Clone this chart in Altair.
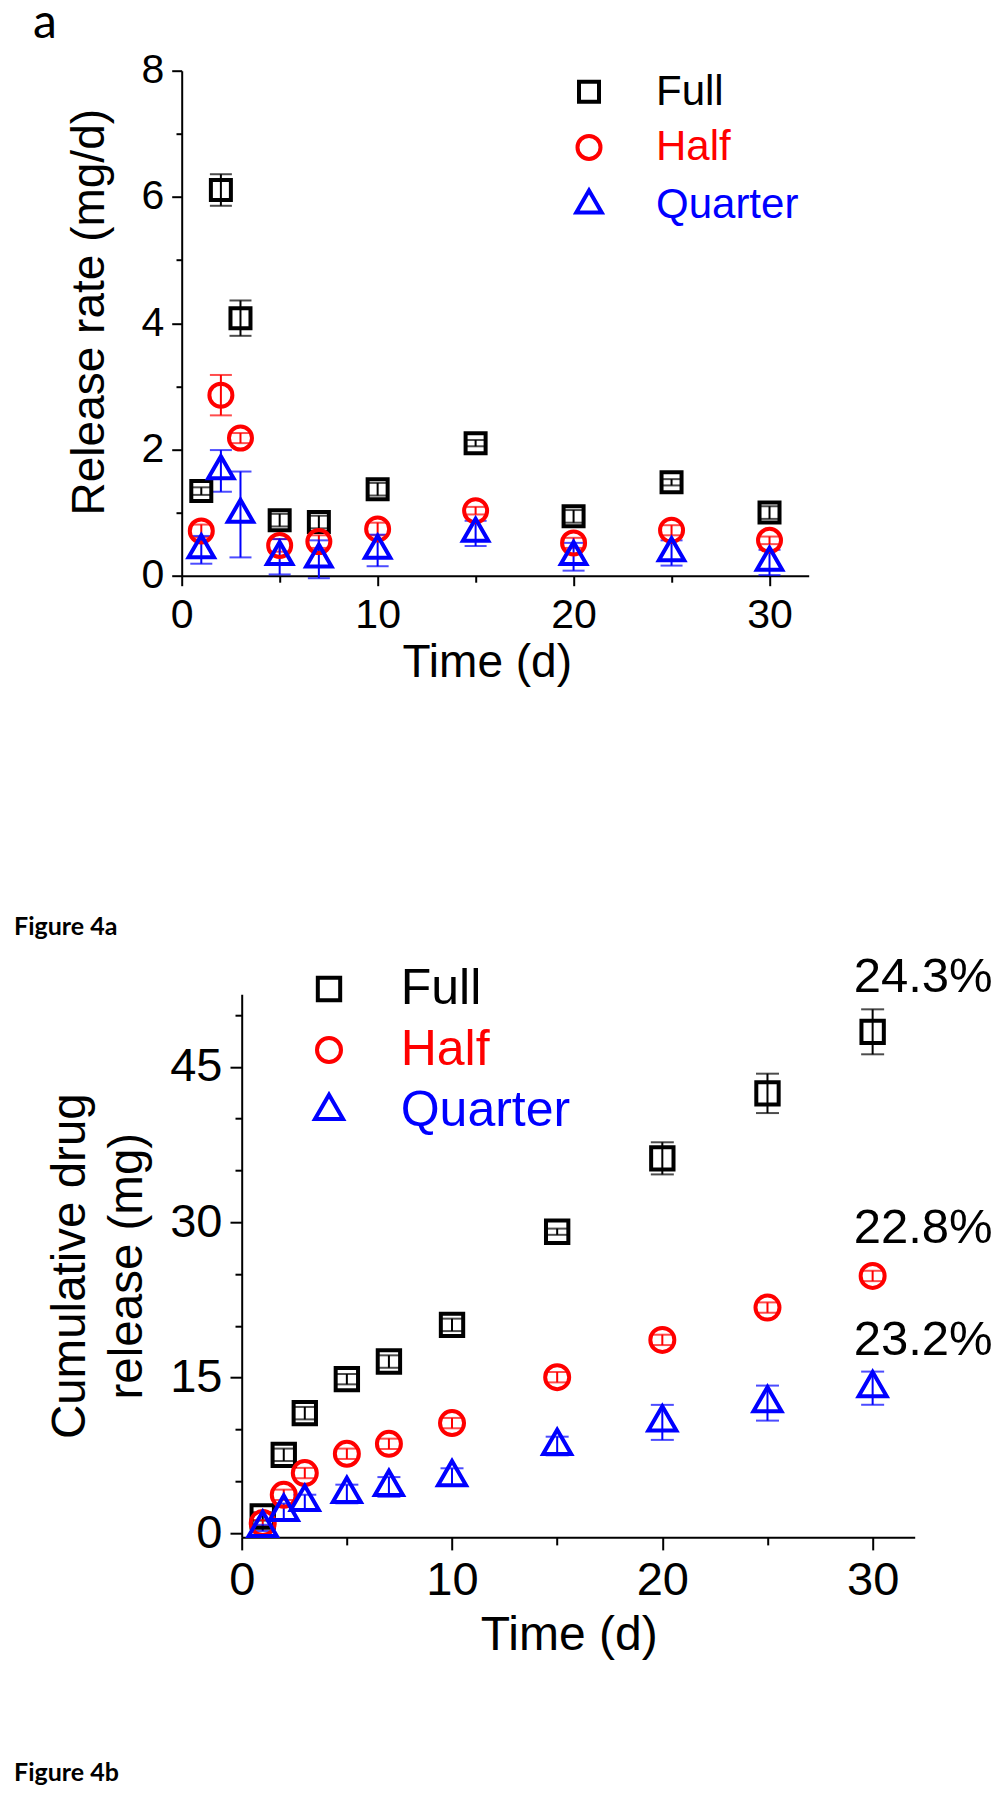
import altair as alt
import pandas as pd

# ---------------- data ----------------
days = [1, 2, 3, 5, 7, 10, 15, 20, 25, 30]
series = ["Full", "Half", "Quarter"]
colors = ["#000000", "#ff0000", "#0000ff"]

# Figure 4a : release rate (mg/d)
rate_full = [1.34, 6.11, 4.08, 0.88, 0.85, 1.37, 2.10, 0.94, 1.48, 1.00]
rate_full_err = [0.06, 0.25, 0.28, 0.10, 0.10, 0.10, 0.05, 0.10, 0.05, 0.10]
rate_half = [0.71, 2.86, 2.18, 0.48, 0.54, 0.74, 1.03, 0.52, 0.72, 0.56]
rate_half_err = [0.10, 0.32, 0.08, 0.10, 0.10, 0.10, 0.06, 0.08, 0.08, 0.06]
rate_quarter = [0.41, 1.66, 0.97, 0.30, 0.26, 0.40, 0.67, 0.30, 0.36, 0.21]
rate_quarter_err = [0.22, 0.33, 0.68, 0.28, 0.30, 0.25, 0.20, 0.22, 0.20, 0.20]

# Figure 4b : cumulative drug release (mg)
cum_full = [1.6, 7.55, 11.57, 14.85, 16.55, 20.09, 29.08, 36.16, 42.43, 48.37]
cum_full_err = [0.4, 0.6, 0.6, 0.5, 0.6, 0.6, 0.3, 1.55, 1.9, 2.17]
cum_half = [0.96, 3.69, 5.79, 7.65, 8.61, 10.61, 15.04, 18.64, 21.76, 24.81]
cum_half_err = [0.3, 0.5, 0.5, 0.5, 0.5, 0.5, 0.5, 0.5, 0.5, 0.5]
cum_quarter = [0.5, 2.05, 3.0, 3.77, 4.45, 5.4, 8.4, 10.68, 12.54, 13.98]
cum_quarter_err = [0.3, 0.8, 0.7, 0.9, 0.95, 0.85, 0.9, 1.69, 1.69, 1.6]

ann_text = ["24.3%", "22.8%", "23.2%"]
ann_day = [30, 30, 30]
ann_value = [52.2, 27.97, 17.2]

# ---------------- helpers ----------------
TRI = "M0,-1L0.866,0.5L-0.866,0.5Z"   # triangle centred on its centroid
FONT = "Liberation Sans"
LABEL_COLOR = {"expr": "datum.label === 'Half' ? '#ff0000' : (datum.label === 'Quarter' ? '#0000ff' : '#000000')"}
INDEP = dict(color="independent", shape="independent", size="independent")


def make_long(vals_list, errs_list):
    rows = []
    for s, vals, errs in zip(series, vals_list, errs_list):
        for d, v, e in zip(days, vals, errs):
            rows.append({"series": s, "day": d, "value": v, "lo": v - e, "hi": v + e})
    return pd.DataFrame(rows)


def cond(test, major, minor):
    return {"condition": {"test": test, "value": major}, "value": minor}


def panel(df, xdom, ydom, xaxis, yaxis, sizes, cap, legend, extra=None):
    xs = alt.Scale(domain=xdom, nice=False, zero=False)
    ys = alt.Scale(domain=ydom, nice=False, zero=False)
    x = alt.X("day:Q", scale=xs, axis=xaxis)
    base = alt.Chart(df)
    layers = []
    # error bars, one colour per series (no legend involvement)
    for s, c in zip(series, colors):
        sub = base.transform_filter(alt.datum.series == s)
        layers.append(sub.mark_rule(strokeWidth=2, color=c).encode(
            x=x, y=alt.Y("lo:Q", scale=ys, axis=yaxis), y2="hi:Q"))
        layers.append(sub.mark_tick(orient="horizontal", size=cap, thickness=2, color=c).encode(
            x=x, y=alt.Y("lo:Q", scale=ys, axis=yaxis)))
        layers.append(sub.mark_tick(orient="horizontal", size=cap, thickness=2, color=c).encode(
            x=x, y=alt.Y("hi:Q", scale=ys, axis=yaxis)))
    pts = base.mark_point(filled=False, strokeWidth=4, opacity=1).encode(
        x=x,
        y=alt.Y("value:Q", scale=ys, axis=yaxis),
        color=alt.Color("series:N", scale=alt.Scale(domain=series, range=colors), legend=legend),
        shape=alt.Shape("series:N", scale=alt.Scale(domain=series, range=["square", "circle", TRI]), legend=legend),
        size=alt.Size("series:N", scale=alt.Scale(type="ordinal", domain=series, range=sizes), legend=legend),
    )
    layers.append(pts)
    if extra is not None:
        layers.append(extra(x, ys, yaxis))
    return alt.layer(*layers)


# ---------------- panel a ----------------
df_a = make_long([rate_full, rate_half, rate_quarter], [rate_full_err, rate_half_err, rate_quarter_err])

xaxis_a = alt.Axis(values=[0, 5, 10, 15, 20, 25, 30],
                   labelExpr="datum.value % 10 === 0 ? datum.label : ''",
                   tickSize=cond("datum.value % 10 === 0", 10, 6.5),
                   labelPadding=10, labelFontSize=41, labelFlush=False, labelOverlap=False,
                   title="Time (d)", titleFontSize=46, titleX=305, titleY=101,
                   titleAlign="center", titleBaseline="alphabetic")
yaxis_a = alt.Axis(values=[0, 1, 2, 3, 4, 5, 6, 7, 8],
                   labelExpr="datum.value % 2 === 0 ? datum.label : ''",
                   tickSize=cond("datum.value % 2 === 0", 10, 5.7),
                   labelPadding=8, labelFontSize=41, labelOverlap=False,
                   title="Release rate (mg/d)", titleFontSize=46, titleX=-78, titleY=241,
                   titleAngle=270, titleAlign="center", titleBaseline="alphabetic")
legend_a = alt.Legend(orient="none", legendX=386.3, legendY=0, title=None, direction="vertical",
                      labelFont=FONT, labelFontSize=42, labelColor=LABEL_COLOR, labelOffset=46,
                      rowPadding=13.7, symbolStrokeWidth=4, padding=0, labelLimit=0)

chart_a = panel(df_a, [0, 32], [0, 8], xaxis_a, yaxis_a, [400, 529, 860], 22, legend_a).properties(
    width=627, height=505,
    title=alt.Title("Figure 4a", orient="bottom", anchor="start", frame="group", font="Lato",
                    fontSize=25, fontWeight="bold", color="black", baseline="alphabetic",
                    dx=-167.7, offset=249))

# ---------------- panel b ----------------
df_b = make_long([cum_full, cum_half, cum_quarter], [cum_full_err, cum_half_err, cum_quarter_err])
ann_df = pd.DataFrame({"label": ann_text, "day": ann_day, "value": ann_value})

xaxis_b = alt.Axis(values=[0, 5, 10, 15, 20, 25, 30],
                   labelExpr="datum.value % 10 === 0 ? datum.label : ''",
                   tickSize=cond("datum.value % 10 === 0", 12.7, 7.7),
                   labelPadding=7.7, labelFontSize=47, labelFlush=False, labelOverlap=False,
                   title="Time (d)", titleFontSize=48, titleX=327, titleY=112.7,
                   titleAlign="center", titleBaseline="alphabetic")
yaxis_b = alt.Axis(values=[0, 5, 10, 15, 20, 25, 30, 35, 40, 45, 50],
                   labelExpr="datum.value % 15 === 0 ? datum.label : ''",
                   tickSize=cond("datum.value % 15 === 0", 11.7, 6.7),
                   labelPadding=8, labelFontSize=47, labelOverlap=False,
                   title=["Cumulative drug", "release (mg)"], titleFontSize=47.5, titleLineHeight=57,
                   titleX=-157.7, titleY=271.5, titleAngle=270, titleAlign="center",
                   titleBaseline="alphabetic")
legend_b = alt.Legend(orient="none", legendX=62.3, legendY=-30.2, title=None, direction="vertical",
                      labelFont=FONT, labelFontSize=50, labelColor=LABEL_COLOR, labelOffset=46.7,
                      rowPadding=11, symbolStrokeWidth=4, padding=0, labelLimit=0)


def annotations(x, ys, yaxis):
    return alt.Chart(ann_df).mark_text(align="left", baseline="alphabetic", dx=-19, font=FONT,
                                       fontSize=49, color="black").encode(
        x=x, y=alt.Y("value:Q", scale=ys, axis=yaxis), text="label:N")


chart_b = panel(df_b, [0, 32], [-0.4, 52], xaxis_b, yaxis_b, [500, 576, 1050], 23, legend_b,
                extra=annotations).properties(
    width=673, height=543,
    title=alt.Title("Figure 4b", orient="bottom", anchor="start", frame="group", font="Lato",
                    fontSize=25, fontWeight="bold", color="black", baseline="alphabetic",
                    dx=-227.7, offset=121))

spacer = alt.Chart(pd.DataFrame({"s": [0]})).mark_point(opacity=0).encode(
    x=alt.value(0), y=alt.value(0)).properties(width=60, height=10)

row_b = alt.hconcat(spacer, chart_b, spacing=0, bounds="flush").resolve_scale(**INDEP).resolve_legend(**INDEP)

chart = alt.vconcat(
    chart_a, row_b, spacing=418.5, bounds="flush",
    title=alt.Title("a", orient="top", anchor="start", frame="group", font="Lato", fontSize=48,
                    fontWeight="normal", color="black", baseline="alphabetic",
                    dx=-148.7, dy=36.6, offset=0),
).resolve_scale(**INDEP).resolve_legend(**INDEP).properties(
    autosize=alt.AutoSizeParams(type="none"),
    padding={"left": 173.7, "top": 62.7, "right": 814.3, "bottom": 1721.3},
).configure_view(stroke=None).configure_axis(
    domainColor="black", domainWidth=2, tickColor="black", tickWidth=2,
    labelColor="black", titleColor="black", labelFont=FONT, titleFont=FONT,
    titleFontWeight="normal", grid=False,
)

chart.save("out.html", embed_options={"renderer": "svg", "actions": False})
